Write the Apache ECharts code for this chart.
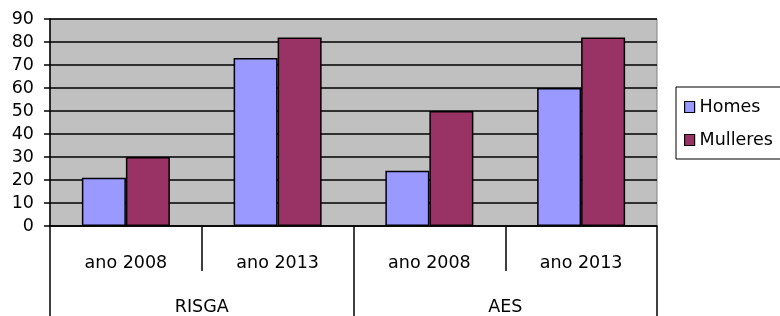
<!DOCTYPE html>
<html>
<head>
<meta charset="utf-8">
<script src="https://cdn.jsdelivr.net/npm/echarts@6/dist/echarts.min.js"></script>
<style>
html,body{margin:0;padding:0;background:#fff;}
#chart{width:780px;height:316px;}
</style>
</head>
<body>
<div id="chart"></div>
<script>
// datos
var anos = ["ano 2008", "ano 2013", "ano 2008", "ano 2013"];
var grupos = ["RISGA", "AES"];
var homes = [21, 73, 24, 60];
var mulleres = [30, 82, 50, 82];
var yMax = 90, yStep = 10;

var fonte = "DejaVu Sans";
var myChart = echarts.init(document.getElementById("chart"));
var option = {
    animation: false,
    textStyle: {fontFamily: fonte},
    grid: {
        left: 50, right: 123, top: 19, bottom: 88,
        show: true,
        backgroundColor: "#c0c0c0",
        borderColor: "#808080",
        borderWidth: 1
    },
    legend: {
        data: ["Homes", "Mulleres"],
        orient: "vertical",
        left: 676, top: 87,
        padding: [11, 8, 10, 8],
        itemWidth: 10, itemHeight: 11,
        itemGap: 15,
        borderColor: "#000", borderWidth: 1,
        icon: "rect",
        itemStyle: {borderColor: "#000", borderWidth: 1.2},
        textStyle: {fontFamily: fonte, fontSize: 17.5, color: "#000"}
    },
    xAxis: [
        {
            type: "category",
            data: anos,
            position: "bottom",
            offset: 0,
            axisLine: {lineStyle: {color: "#000", width: 1.5}},
            axisTick: {show: true, interval: 0, length: 45, lineStyle: {color: "#000", width: 1.5}},
            axisLabel: {interval: 0, margin: 28, color: "#000", fontSize: 17.5, fontFamily: fonte}
        },
        {
            type: "category",
            data: grupos,
            position: "bottom",
            offset: 0,
            axisLine: {show: false},
            axisTick: {show: true, interval: 0, length: 90, lineStyle: {color: "#000", width: 1.5}},
            axisLabel: {interval: 0, margin: 72, color: "#000", fontSize: 17.5, fontFamily: fonte}
        }
    ],
    yAxis: {
        type: "value",
        min: 0, max: yMax, interval: yStep,
        axisLine: {show: true, lineStyle: {color: "#000", width: 1.5}},
        axisTick: {show: true, length: 6, lineStyle: {color: "#000", width: 1.5}},
        axisLabel: {margin: 16, color: "#000", fontSize: 17.5, fontFamily: fonte},
        splitLine: {lineStyle: {color: "#000", width: 1.5}}
    },
    series: [
        {
            name: "Homes", type: "bar", xAxisIndex: 0,
            data: homes,
            barGap: "0%", barCategoryGap: "42%",
            itemStyle: {color: "#9999ff", borderColor: "#000", borderWidth: 1.5}
        },
        {
            name: "Mulleres", type: "bar", xAxisIndex: 0,
            data: mulleres,
            barGap: "0%", barCategoryGap: "42%",
            itemStyle: {color: "#993366", borderColor: "#000", borderWidth: 1.5}
        }
    ]
};
myChart.setOption(option);
</script>
</body>
</html>
